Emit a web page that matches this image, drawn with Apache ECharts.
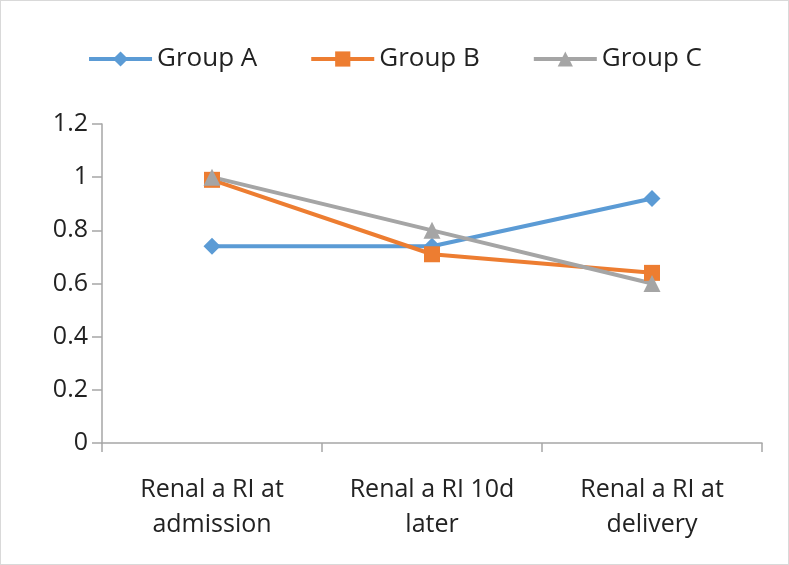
<!DOCTYPE html>
<html>
<head>
<meta charset="utf-8">
<script src="https://cdn.jsdelivr.net/npm/echarts@6/dist/echarts.min.js"></script>
<style>
  html, body { margin: 0; padding: 0; background: #fff; }
  #chart { width: 787px; height: 563px; border: 1px solid #d9d9d9; }
</style>
</head>
<body>
<div id="chart"></div>
<script>
"use strict";
// 数据
var categories = ["Renal a RI at\nadmission", "Renal a RI 10d\nlater", "Renal a RI at\ndelivery"];
var groupA = [0.74, 0.74, 0.92];
var groupB = [0.99, 0.71, 0.64];
var groupC = [1.0, 0.80, 0.60];
var yTicks = { min: 0, max: 1.2, interval: 0.2 };

function lineSeries(name, data, color, symbol, size) {
  return {
    name: name,
    type: "line",
    data: data,
    symbol: symbol,
    symbolSize: size,
    lineStyle: { width: 4, color: color },
    itemStyle: { color: color },
    emphasis: { disabled: true }
  };
}

var myChart = echarts.init(document.getElementById("chart"));
var font = "'Open Sans', 'DejaVu Sans', sans-serif";
myChart.setOption({
  animation: false,
  textStyle: { fontFamily: font },
  legend: {
    top: 40,
    left: "center",
    itemWidth: 63,
    itemHeight: 19,
    itemGap: 52,
    lineStyle: { width: 4 },
    textStyle: { fontSize: 26, color: "#222", fontFamily: font },
    data: ["Group A", "Group B", "Group C"]
  },
  grid: { left: 101, right: 26, top: 123, bottom: 121 },
  xAxis: {
    type: "category",
    data: categories,
    boundaryGap: true,
    axisLine: { lineStyle: { color: "#a6a6a6", width: 1.5 } },
    axisTick: { show: true, length: 9, lineStyle: { color: "#a6a6a6", width: 1.5 } },
    axisLabel: { color: "#222", fontSize: 25, lineHeight: 35, margin: 29, fontFamily: font },
    splitLine: { show: false }
  },
  yAxis: {
    type: "value",
    min: yTicks.min,
    max: yTicks.max,
    interval: yTicks.interval,
    axisLine: { show: true, lineStyle: { color: "#a6a6a6", width: 1.5 } },
    axisTick: { show: true, length: 10, inside: false, lineStyle: { color: "#a6a6a6", width: 1.5 } },
    axisLabel: {
      color: "#222",
      fontSize: 25,
      margin: 14,
      fontFamily: font,
      formatter: function (v) { return String(Math.round(v * 10) / 10); }
    },
    splitLine: { show: false }
  },
  series: [
    lineSeries("Group A", groupA, "#5B9BD5", "diamond", 17),
    lineSeries("Group B", groupB, "#ED7D31", "rect", 16),
    lineSeries("Group C", groupC, "#A5A5A5", "triangle", 17)
  ]
});
</script>
</body>
</html>
